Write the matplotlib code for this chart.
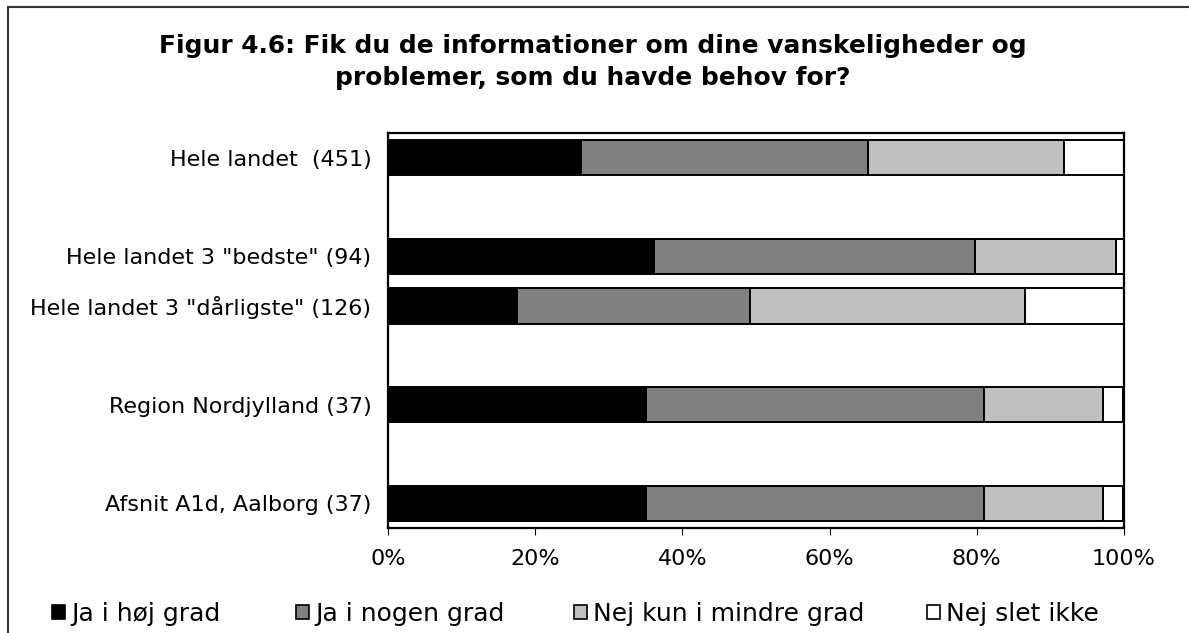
import numpy as np
import matplotlib
matplotlib.use('Agg')
import matplotlib.pyplot as plt
from matplotlib.patches import Patch, Rectangle
from matplotlib.ticker import PercentFormatter

# data (percent of respondents)
groups = ['Hele landet  (451)', 'Hele landet 3 "bedste" (94)',
          'Hele landet 3 "dårligste" (126)', 'Region Nordjylland (37)',
          'Afsnit A1d, Aalborg (37)']
slots = [0, 2, 3, 5, 7]
answers = ['Ja i høj grad', 'Ja i nogen grad', 'Nej kun i mindre grad', 'Nej slet ikke']
ja_hoej = [26.2, 36.2, 17.5, 35.1, 35.1]
ja_nogen = [39.0, 43.6, 31.7, 45.9, 45.9]
nej_mindre = [26.6, 19.1, 37.3, 16.2, 16.2]
nej_slet = [8.2, 1.1, 13.5, 2.7, 2.7]
colors = ['#000000', '#808080', '#c0c0c0', '#ffffff']

fig = plt.figure(figsize=(11.89, 6.33), dpi=100)
ax = fig.add_axes([0.3263, 0.1659, 0.9453 - 0.3263, 0.7899 - 0.1659])

left = np.zeros(len(groups))
for vals, col in zip([ja_hoej, ja_nogen, nej_mindre, nej_slet], colors):
    ax.barh(slots, vals, left=left, height=0.72, color=col,
            edgecolor='black', linewidth=1.4)
    left += np.array(vals)

ax.set_xlim(0, 100)
ax.set_ylim(7.5, -0.5)
ax.set_xticks([0, 20, 40, 60, 80, 100])
ax.xaxis.set_major_formatter(PercentFormatter(decimals=0))
ax.set_yticks(slots)
ax.set_yticklabels(groups)
ax.tick_params(axis='y', length=0, pad=12, labelsize=16)
ax.tick_params(axis='x', direction='out', length=5, pad=10, labelsize=16)
for s in ax.spines.values():
    s.set_linewidth(1.6)

fig.text(0.4988, 0.902, 'Figur 4.6: Fik du de informationer om dine vanskeligheder og\n'
         'problemer, som du havde behov for?', ha='center', va='center',
         fontsize=17.9, fontweight='bold', linespacing=1.45)

# legend entries at fixed positions like the original
leg_x = [52, 296, 574, 927]
for name, col, x in zip(answers, colors, leg_x):
    h = Patch(facecolor=col, edgecolor='black', linewidth=1.2)
    fig.legend([h], [name], loc='center left', bbox_to_anchor=(x / 1189, 1 - 614 / 633),
               frameon=False, fontsize=18, handlelength=0.5, handleheight=0.5,
               handletextpad=0.25, borderpad=0, borderaxespad=0)

# outer frame (right and bottom edges are cropped off)
fig.patches.append(Rectangle((8 / 1189, -0.2), 1.3, 1.2 - 7 / 633, transform=fig.transFigure,
                             fill=False, edgecolor='#333333', linewidth=1.5))

fig.savefig('out.png', dpi=100)
